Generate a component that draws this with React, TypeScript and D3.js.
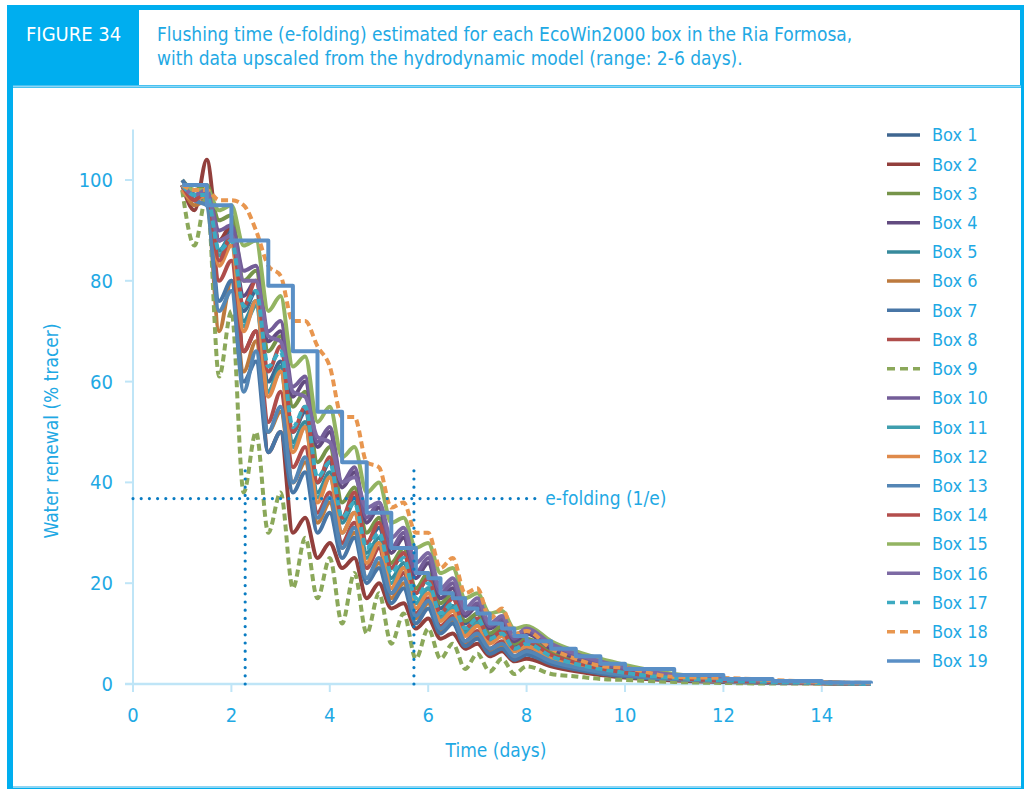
import React, { useEffect } from 'react';
import * as d3 from 'd3';

// shared time axis (days)
const time = [
  1, 1.25, 1.5, 1.75, 2, 2.25, 2.5, 2.75, 3, 3.25, 3.5, 3.75, 4, 4.25, 4.5, 4.75, 5, 5.25, 5.5, 5.75,
  6, 6.25, 6.5, 6.75, 7, 7.25, 7.5, 7.75, 8, 8.5, 9, 9.5, 10, 11, 12, 13, 14, 15,
];

const box1 = [99, 97, 98, 88, 90, 74, 78, 60, 64, 50, 54, 40, 44, 33, 37, 28, 31, 23, 26, 18, 21, 15, 17, 12, 14, 9.5, 11, 7.5, 8.5, 6, 4.5, 3.2, 2.4, 1.3, 0.8, 0.5, 0.3, 0.1];
const box2 = [99, 94, 104, 88, 91, 66, 70, 46, 50, 30, 33, 25, 28, 23, 25, 17, 20, 15, 16, 11, 13, 9, 10, 7, 8, 5.5, 6.5, 4.5, 5, 3.5, 2.5, 1.8, 1.3, 0.7, 0.4, 0.2, 0.1, 0];
const box3 = [100, 98, 99, 92, 93, 80, 82, 66, 69, 55, 58, 44, 47, 36, 39, 30, 33, 24, 27, 19, 22, 16, 18, 12.5, 14, 10, 11.5, 8, 9, 6.5, 4.8, 3.5, 2.6, 1.4, 0.8, 0.5, 0.3, 0.1];
const box4 = [99, 96, 97, 86, 88, 77, 80, 68, 70, 57, 60, 47, 50, 39, 42, 32, 35, 26, 29, 21, 24, 17, 19, 13.5, 15.5, 11, 12.5, 8.5, 10, 7, 5.2, 3.8, 2.8, 1.5, 0.9, 0.5, 0.3, 0.1];
const box5 = [98, 96, 97, 86, 89, 72, 76, 58, 63, 48, 52, 38, 42, 32, 36, 26, 29, 21, 24, 16, 19, 13.5, 15.5, 10.5, 12.5, 8.5, 10, 7, 8, 5.5, 4.2, 3, 2.2, 1.2, 0.7, 0.4, 0.2, 0.1];
const box6 = [99, 95, 96, 70, 80, 62, 68, 50, 54, 40, 44, 32, 36, 27, 30, 21, 24, 17, 20, 13, 16, 10.5, 12.5, 8, 9.5, 6.5, 7.5, 5, 6, 4.3, 3.2, 2.3, 1.7, 1, 0.6, 0.3, 0.2, 0];
const box7 = [100, 97, 96, 76, 80, 60, 64, 46, 50, 38, 42, 30, 34, 25, 29, 20, 23, 16, 19, 12, 15, 10, 12, 7.5, 9, 6, 7, 4.8, 5.8, 4, 2.9, 2.1, 1.5, 0.9, 0.5, 0.3, 0.2, 0];
const box8 = [99, 96, 97, 80, 84, 66, 70, 52, 58, 43, 47, 34, 38, 28, 32, 23, 27, 18, 22, 14, 17, 11.5, 13.5, 8.5, 10.5, 7, 8.5, 5.5, 6.8, 4.7, 3.5, 2.5, 1.9, 1, 0.6, 0.3, 0.2, 0];
const box9 = [98, 87, 97, 61, 74, 38, 50, 30, 38, 19, 29, 17, 25, 12, 22, 10, 18, 8, 14, 5, 11, 5, 8, 3, 6, 2.5, 5, 2, 3.5, 2, 1.5, 1, 0.8, 0.4, 0.2, 0.1, 0.1, 0];
const box10 = [99, 97, 98, 90, 91, 82, 83, 70, 72, 59, 61, 48, 51, 40, 43, 33, 36, 27, 30, 22, 25, 18, 20, 14, 16, 11.5, 13, 9, 10.5, 7.5, 5.5, 4, 3, 1.6, 0.9, 0.5, 0.3, 0.1];
const box11 = [99, 97, 98, 85, 88, 71, 75, 58, 62, 47, 51, 37, 41, 30, 34, 25, 28, 20, 23, 16, 19, 13, 15, 10, 12, 8.5, 9.5, 6.5, 7.5, 5.2, 3.9, 2.8, 2, 1.1, 0.6, 0.4, 0.2, 0];
const box12 = [98, 96, 97, 83, 87, 70, 76, 57, 62, 46, 51, 36, 41, 30, 34, 24, 28, 19, 23, 15, 18, 12.5, 14.5, 9.5, 11.5, 8, 9.5, 6.5, 7.5, 5, 3.8, 2.8, 2, 1.1, 0.6, 0.4, 0.2, 0];
const box13 = [99, 96, 95, 74, 78, 58, 66, 50, 55, 40, 45, 33, 37, 27, 31, 21, 25, 18, 21, 13.5, 16.5, 11, 13, 8.5, 10, 7, 8, 5.5, 6.5, 4.5, 3.3, 2.4, 1.8, 1, 0.6, 0.3, 0.2, 0];
const box14 = [99, 96, 98, 84, 89, 75, 80, 62, 67, 50, 55, 40, 45, 33, 38, 28, 32, 23, 26, 18, 21, 14, 17, 11, 13, 9, 10.5, 7, 8.5, 5.8, 4.3, 3.1, 2.3, 1.2, 0.7, 0.4, 0.2, 0.1];
const box15 = [99, 98, 98, 94, 95, 87, 88, 74, 77, 63, 65, 52, 55, 45, 47, 38, 40, 32, 33, 27, 28, 22, 23, 17, 18, 14, 14.5, 11, 11.5, 8.5, 6.5, 5, 3.8, 2, 1.1, 0.6, 0.3, 0.1];
const box16 = [99, 97, 98, 88, 89, 80, 80, 69, 68, 58, 57, 49, 48, 40, 41, 35, 36, 29, 31, 24, 26, 19, 21, 15, 17, 12, 13.5, 9.5, 11, 8, 6, 4.5, 3.3, 1.8, 1, 0.6, 0.3, 0.1];
const box17 = [99, 97, 97, 86, 88, 75, 78, 63, 66, 51, 55, 41, 44, 33, 36, 27, 30, 22, 25, 17, 20, 14, 16, 11, 13, 9, 10, 7, 8, 5.5, 4, 3, 2.2, 1.2, 0.7, 0.4, 0.2, 0];
const box18 = [99, 98, 98, 96, 96, 95, 90, 83, 81, 72, 72, 67, 63, 53, 53, 44, 43, 35, 36, 30, 30, 23, 25, 18, 19, 13, 15, 10, 10.5, 7, 5, 3.6, 3.2, 1.4, 1.2, 0.8, 0.4, 0.2];
const box19 = [99, 99, 95, 95, 88, 88, 88, 79, 79, 66, 66, 54, 54, 44, 44, 34, 34, 27, 27, 22, 21, 18, 17, 15, 14, 12, 11, 9.5, 8.5, 7, 5.5, 4, 3, 1.8, 1, 0.6, 0.3, 0.1];

const boxNames = ['Box 1', 'Box 2', 'Box 3', 'Box 4', 'Box 5', 'Box 6', 'Box 7', 'Box 8', 'Box 9', 'Box 10',
  'Box 11', 'Box 12', 'Box 13', 'Box 14', 'Box 15', 'Box 16', 'Box 17', 'Box 18', 'Box 19'];
const boxValues = [box1, box2, box3, box4, box5, box6, box7, box8, box9, box10,
  box11, box12, box13, box14, box15, box16, box17, box18, box19];
const boxColors = ['#3f6690', '#923f3c', '#76944a', '#624b80', '#378a9c', '#bd7a3e', '#4876a6', '#af4d4b', '#8ba85a', '#735d98',
  '#3f9eae', '#df8a4b', '#5486b5', '#b34e4c', '#93b462', '#7d6aa4', '#3daac1', '#e8964f', '#5a8fc6'];
const dashedBoxes = ['Box 9', 'Box 17', 'Box 18'];
const steppedBoxes = ['Box 19'];

const xTicks = [0, 2, 4, 6, 8, 10, 12, 14];
const yTicks = [0, 20, 40, 60, 80, 100];
const eFold = 100 / Math.E;
const eFoldRange = [2.28, 5.71];

const BLUE = '#00aeef';
const TEXT = '#1fa9e4';
const AXIS = '#bfe5f7';
const FONT = "'DejaVu Sans Condensed', 'DejaVu Sans', sans-serif";

export default function App() {
  useEffect(() => {
    document.body.style.margin = '0';
  }, []);

  const width = 1027;
  const height = 790;

  const x = d3.scaleLinear().domain([0, 15]).range([133, 871]);
  const y = d3.scaleLinear().domain([0, 100]).range([684, 180]);

  const series = boxNames.map((name, i) => ({
    name,
    color: boxColors[i],
    dashed: dashedBoxes.includes(name),
    pts: time.map((t, j) => [t, boxValues[i][j]] as [number, number]),
    curve: steppedBoxes.includes(name) ? d3.curveStepAfter : d3.curveMonotoneX,
  }));

  const legendY = d3.scalePoint().domain(boxNames).range([135, 661]);

  return (
    <svg width={width} height={height} style={{ display: 'block' }} fontFamily={FONT}>
      {/* frame */}
      <rect x={7} y={5} width={1017} height={784} fill={BLUE} />
      <rect x={13} y={88} width={1008} height={698} fill="#fff" />
      <line x1={13} x2={1021} y1={86.5} y2={86.5} stroke="#8fd6f4" strokeWidth={2} />
      <line x1={13} x2={1021} y1={787} y2={787} stroke="#8fd6f4" strokeWidth={2} />
      <rect x={139} y={10} width={881} height={75} fill="#fff" />
      <text x={26} y={41} fill="#fff" fontSize={20}>FIGURE 34</text>
      <text x={157} y={41} fill={TEXT} fontSize={19}>
        Flushing time (e-folding) estimated for each EcoWin2000 box in the Ria Formosa,
      </text>
      <text x={157} y={65} fill={TEXT} fontSize={19}>
        with data upscaled from the hydrodynamic model (range: 2-6 days).
      </text>

      {/* axes */}
      <line x1={x(0)} x2={x(0)} y1={y(0)} y2={y(110)} stroke={AXIS} strokeWidth={2} />
      <line x1={x(0) - 8} x2={x(15)} y1={y(0)} y2={y(0)} stroke={AXIS} strokeWidth={2.5} />
      {yTicks.map((t) => (
        <g key={'y' + t}>
          <line x1={x(0) - 8} x2={x(0)} y1={y(t)} y2={y(t)} stroke={AXIS} strokeWidth={2} />
          <text x={x(0) - 20} y={y(t)} dy="0.35em" textAnchor="end" fill={TEXT} fontSize={20}>{t}</text>
        </g>
      ))}
      {xTicks.map((t) => (
        <g key={'x' + t}>
          <line x1={x(t)} x2={x(t)} y1={y(0)} y2={y(0) + 8} stroke={AXIS} strokeWidth={2} />
          <text x={x(t)} y={722} textAnchor="middle" fill={TEXT} fontSize={20}>{t}</text>
        </g>
      ))}
      <text x={496} y={757} textAnchor="middle" fill={TEXT} fontSize={19}>Time (days)</text>
      <text transform="translate(58,431) rotate(-90)" textAnchor="middle" fill={TEXT} fontSize={19}>
        Water renewal (% tracer)
      </text>

      {/* series */}
      {series.map((s) => (
        <path
          key={s.name}
          d={d3.line().x((d) => x(d[0])).y((d) => y(d[1])).curve(s.curve)(s.pts) || ''}
          fill="none"
          stroke={s.color}
          strokeWidth={4}
          strokeDasharray={s.dashed ? '7,4' : undefined}
          strokeLinejoin="round"
        />
      ))}

      {/* e-folding guides */}
      <line x1={x(0)} x2={x(8.2)} y1={y(eFold)} y2={y(eFold)} stroke="#0a7cc2" strokeWidth={3.2}
        strokeDasharray="0,8.2" strokeLinecap="round" />
      {eFoldRange.map((t) => (
        <line key={'v' + t} x1={x(t)} x2={x(t)} y1={y(0)} y2={y(43)} stroke="#0a7cc2" strokeWidth={3.2}
          strokeDasharray="0,8.2" strokeLinecap="round" />
      ))}
      <text x={x(8.38)} y={y(eFold)} dy="0.35em" fill={TEXT} fontSize={19}>e-folding (1/e)</text>

      {/* legend */}
      {series.map((s) => (
        <g key={'l' + s.name} transform={`translate(0,${legendY(s.name)})`}>
          <line x1={887} x2={920} y1={0} y2={0} stroke={s.color} strokeWidth={3.5}
            strokeDasharray={s.dashed ? '8,5' : undefined} />
          <text x={932} y={0} dy="0.35em" fill={TEXT} fontSize={18}>{s.name}</text>
        </g>
      ))}
    </svg>
  );
}
